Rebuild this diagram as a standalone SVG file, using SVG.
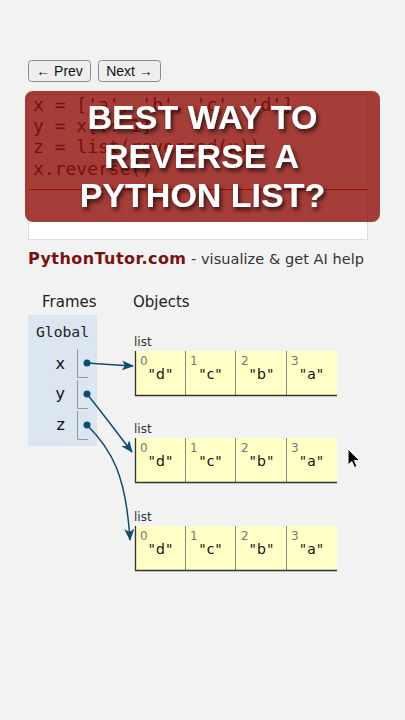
<svg xmlns="http://www.w3.org/2000/svg" width="405" height="720" viewBox="0 0 405 720">
<style>
.btn{fill:#efefef;stroke:#8a8a8a;stroke-width:1}
.btnt{font-family:"Liberation Sans",Arial,sans-serif;font-size:14px;fill:#111;text-anchor:middle}
.code{font-family:"DejaVu Sans Mono",monospace;font-size:18px;fill:#222}
.title{font-family:"Liberation Sans",Arial,sans-serif;font-weight:bold;font-size:34px;fill:#fff;text-anchor:middle}
.hdr{font-family:"DejaVu Sans",Verdana,sans-serif;font-size:15px;fill:#222}
.var{font-family:"DejaVu Sans",Verdana,sans-serif;font-size:16px;fill:#111;text-anchor:end}
.lbl{font-family:"DejaVu Sans",Verdana,sans-serif;font-size:12px;fill:#333}
.idx{font-family:"DejaVu Sans",Verdana,sans-serif;font-size:12px;fill:#777}
.val{font-family:"DejaVu Sans",Verdana,sans-serif;font-size:14px;fill:#111;text-anchor:middle;letter-spacing:1px}
.cell{fill:#ffffc6}
.div{stroke:#888;stroke-width:1}
.edge{stroke:#333;stroke-width:1.3}
.conn{fill:none;stroke:#0f4d70;stroke-width:1.5}
.dot{fill:#0f4d70}
</style>
<defs>
<marker id="ah" viewBox="0 0 12 10" refX="11" refY="5" markerWidth="12" markerHeight="10" markerUnits="userSpaceOnUse" orient="auto">
<path d="M0,0 L12,5 L0,10 L3,5 Z" fill="#0f4d70"/>
</marker>
<filter id="sh" x="-20%" y="-30%" width="140%" height="160%">
<feDropShadow dx="2" dy="3" stdDeviation="2" flood-color="#000" flood-opacity="0.7"/>
</filter>
</defs>
<rect width="405" height="720" fill="#f2f2f2"/>

<g id="prev-btn"><rect class="btn" x="28.5" y="60.5" width="62" height="21" rx="3"/><text class="btnt" x="59.5" y="75.5">← Prev</text></g>
<g id="next-btn"><rect class="btn" x="98.5" y="60.5" width="62" height="21" rx="3"/><text class="btnt" x="129.5" y="75.5">Next →</text></g>

<g id="code-box">
<rect x="28.5" y="94.5" width="339" height="145" fill="#fff" stroke="#ddd"/>
<line x1="29" y1="189.5" x2="367" y2="189.5" stroke="#c00" stroke-width="1"/>
<text class="code" x="33" y="111">x = ['a', 'b', 'c', 'd']</text>
<text class="code" x="33" y="132">y = x[::-1]</text>
<text class="code" x="33" y="153">z = list(reversed(x))</text>
<text class="code" x="33" y="175">x.reverse()</text>
</g>

<g id="title-banner">
<rect x="25" y="91" width="355" height="131" rx="8" fill="rgb(142,12,6)" fill-opacity="0.8"/>
<g filter="url(#sh)">
<text class="title" x="202.5" y="129" font-size="35">BEST WAY TO</text>
<text class="title" x="201.5" y="168" font-size="35">REVERSE A</text>
<text class="title" x="202.5" y="207" font-size="35">PYTHON LIST?</text>
</g>
</g>

<g id="tagline">
<text x="28" y="264" font-family="'DejaVu Sans',Verdana,sans-serif" font-weight="bold" font-size="16" fill="#7a1111" textLength="158">PythonTutor.com</text>
<text x="191" y="264" font-family="'DejaVu Sans',Verdana,sans-serif" font-size="14.5" fill="#333" textLength="173">- visualize &amp; get AI help</text>
</g>

<g id="headers">
<text class="hdr" x="42" y="307">Frames</text>
<text class="hdr" x="133" y="307">Objects</text>
</g>

<g id="global-frame">
<rect x="28" y="315" width="69" height="131" fill="#dce6f1"/>
<text x="36" y="337" font-family="'DejaVu Sans Mono',monospace" font-size="14.7" fill="#222">Global</text>
<text class="var" x="65" y="369">x</text>
<text class="var" x="65" y="399">y</text>
<text class="var" x="65" y="430">z</text>
<path d="M77.5,349 V377.5 H88 M77.5,380 V408.5 H88 M77.5,411 V439.5 H88" fill="none" stroke="#999" stroke-width="1"/>
</g>

<g id="list1">
<text class="lbl" x="134" y="346">list</text>
<rect class="cell" x="135" y="351" width="202" height="44"/>
<line class="div" x1="185.5" y1="351" x2="185.5" y2="395"/><line class="div" x1="235.5" y1="351" x2="235.5" y2="395"/><line class="div" x1="286.5" y1="351" x2="286.5" y2="395"/>
<path class="edge" d="M135.5,351 V395.5 H337" fill="none"/>
<text class="idx" x="140" y="365">0</text><text class="idx" x="190" y="365">1</text><text class="idx" x="241" y="365">2</text><text class="idx" x="291" y="365">3</text>
<text class="val" x="161" y="379">"d"</text><text class="val" x="211" y="379">"c"</text><text class="val" x="262" y="379">"b"</text><text class="val" x="312" y="379">"a"</text>
</g>

<g id="list2">
<text class="lbl" x="134" y="433">list</text>
<rect class="cell" x="135" y="438" width="202" height="44"/>
<line class="div" x1="185.5" y1="438" x2="185.5" y2="482"/><line class="div" x1="235.5" y1="438" x2="235.5" y2="482"/><line class="div" x1="286.5" y1="438" x2="286.5" y2="482"/>
<path class="edge" d="M135.5,438 V482.5 H337" fill="none"/>
<text class="idx" x="140" y="452">0</text><text class="idx" x="190" y="452">1</text><text class="idx" x="241" y="452">2</text><text class="idx" x="291" y="452">3</text>
<text class="val" x="161" y="466">"d"</text><text class="val" x="211" y="466">"c"</text><text class="val" x="262" y="466">"b"</text><text class="val" x="312" y="466">"a"</text>
</g>

<g id="list3">
<text class="lbl" x="134" y="521">list</text>
<rect class="cell" x="135" y="526" width="202" height="44"/>
<line class="div" x1="185.5" y1="526" x2="185.5" y2="570"/><line class="div" x1="235.5" y1="526" x2="235.5" y2="570"/><line class="div" x1="286.5" y1="526" x2="286.5" y2="570"/>
<path class="edge" d="M135.5,526 V570.5 H337" fill="none"/>
<text class="idx" x="140" y="540">0</text><text class="idx" x="190" y="540">1</text><text class="idx" x="241" y="540">2</text><text class="idx" x="291" y="540">3</text>
<text class="val" x="161" y="554">"d"</text><text class="val" x="211" y="554">"c"</text><text class="val" x="262" y="554">"b"</text><text class="val" x="312" y="554">"a"</text>
</g>

<g id="connectors">
<circle class="dot" cx="87" cy="363" r="3.5"/>
<circle class="dot" cx="87" cy="394" r="3.5"/>
<circle class="dot" cx="87" cy="425" r="3.5"/>
<path class="conn" d="M87,363 C100,364 115,365 133,366" marker-end="url(#ah)"/>
<path class="conn" d="M87,394 C100,410 115,430 132,452" marker-end="url(#ah)"/>
<path class="conn" d="M87,425 C112,450 126,475 130,540" marker-end="url(#ah)"/>
</g>

<g id="cursor">
<path d="M348,449 L348,465 L351.8,461.6 L354.5,467.5 L357,466.4 L354.4,460.6 L359.5,460.6 Z" fill="#000" stroke="#fff" stroke-width="1"/>
</g>
</svg>
